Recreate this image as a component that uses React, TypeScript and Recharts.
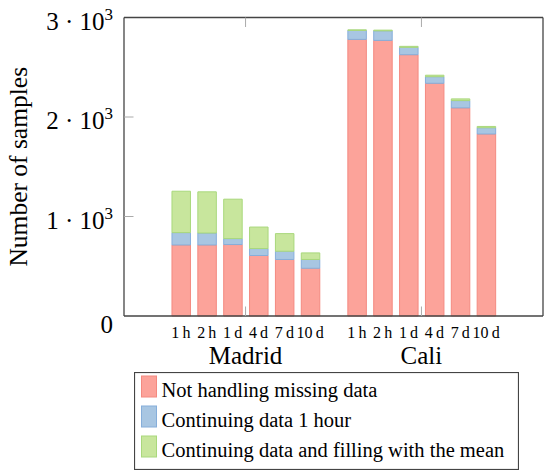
import React from 'react';
import { BarChart, Bar, XAxis, YAxis, Legend, Label } from 'recharts';

const cities = ['Madrid', 'Cali'];
const horizons = ['1\u2009h', '2\u2009h', '1\u2009d', '4\u2009d', '7\u2009d', '10\u2009d'];
const seriesNames = [
  'Not handling missing data',
  'Continuing data 1 hour',
  'Continuing data and filling with the mean',
];
const madridNotHandling = [714, 714, 718, 608, 568, 480];
const madridContinuing1h = [124, 120, 60, 70, 83, 88];
const madridFillingMean = [416, 414, 396, 216, 177, 66];
const caliNotHandling = [2780, 2770, 2626, 2339, 2092, 1829];
const caliContinuing1h = [90, 96, 74, 66, 73, 63];
const caliFillingMean = [6, 7, 10, 15, 17, 13];
const yTicks = [0, 1000, 2000, 3000];

// layout (not data)
const GROUP_START = [2.2, 9.0];
const X_DOMAIN: [number, number] = [0, 16.2];
const FONT = '"Liberation Serif", "Times New Roman", serif';
const FILLS = ['#FCA39A', '#A8C6E2', '#C8E69D'];
const STROKES = ['#F48A80', '#86AEDA', '#A9D87C'];
const FRAME = '#444444';
const TICK = '#aaaaaa';

const perCity = [
  [madridNotHandling, madridContinuing1h, madridFillingMean],
  [caliNotHandling, caliContinuing1h, caliFillingMean],
];

const data = cities.flatMap((city, c) =>
  horizons.map((h, i) => ({
    x: GROUP_START[c] + i,
    label: h,
    city,
    notHandling: perCity[c][0][i],
    continuing1h: perCity[c][1][i],
    fillingMean: perCity[c][2][i],
  }))
);
const barTicks = data.map((d) => d.x);
const barLabels = data.map((d) => d.label);
const groupCenters = GROUP_START.map((s) => s + (horizons.length - 1) / 2);

const YTick = (props: any) => {
  const { x, y, payload } = props;
  const v = payload.value as number;
  return (
    <g>
      {v > 0 && v < 3000 && <line x1={x} x2={x + 9.5} y1={y} y2={y} stroke={TICK} strokeWidth={1} />}
      <text
        x={x - 11}
        y={v === 0 ? y + 17 : y + 12}
        textAnchor="end"
        fontFamily={FONT}
        fontSize={25}
        fill="#000"
      >
        {v === 0 ? (
          '0'
        ) : (
          <>
            {`${v / 1000} \u00B7 10`}
            <tspan dy={-10} fontSize={17}>
              3
            </tspan>
          </>
        )}
      </text>
    </g>
  );
};

const RightTick = (props: any) => {
  const { x, y, payload } = props;
  const v = payload.value as number;
  if (v <= 0 || v >= 3000) return <g />;
  return <line x1={x - 9.5} x2={x} y1={y} y2={y} stroke={TICK} strokeWidth={1} />;
};

const TopTick = (props: any) => {
  const { x, y } = props;
  return <line x1={x} x2={x} y1={y} y2={y + 9.5} stroke={TICK} strokeWidth={1} />;
};

const BAR_AXIS_H = 24;

const BarLabelTick = (props: any) => {
  const { x, y, index } = props;
  return (
    <text x={x} y={y + 22} textAnchor="middle" fontFamily={FONT} fontSize={16} fill="#000">
      {barLabels[index]}
    </text>
  );
};

const GroupTick = (props: any) => {
  const { x, y, index } = props;
  const plotBottom = y - BAR_AXIS_H;
  return (
    <g>
      <line x1={x} x2={x} y1={plotBottom} y2={plotBottom - 9.5} stroke={TICK} strokeWidth={1} />
      <text x={x} y={y + 24} textAnchor="middle" fontFamily={FONT} fontSize={25} fill="#000">
        {cities[index]}
      </text>
    </g>
  );
};

const YLabel = (props: any) => {
  const vb = props.viewBox || {};
  const cy = (vb.y ?? 17) + (vb.height ?? 299) / 2;
  const bx = 27;
  return (
    <text
      x={bx}
      y={cy}
      transform={`rotate(-90, ${bx}, ${cy})`}
      textAnchor="middle"
      fontFamily={FONT}
      fontSize={25.5}
      fill="#000"
    >
      Number of samples
    </text>
  );
};

const LegendBox = () => (
  <svg width={385} height={98} style={{ display: 'block' }}>
    <rect x={0.5} y={0.5} width={384} height={97} fill="#fff" stroke={FRAME} strokeWidth={1.2} />
    {seriesNames.map((name, i) => {
      const top = 4 + i * 30;
      return (
        <g key={name}>
          <rect x={7.5} y={top} width={15} height={21} fill={FILLS[i]} stroke={STROKES[i]} strokeWidth={1} />
          <text x={27.5} y={top + 20.5} fontFamily={FONT} fontSize={20.5} fill="#000">
            {name}
          </text>
        </g>
      );
    })}
  </svg>
);

export default function App() {
  return (
    <div style={{ position: 'absolute', left: 0, top: 0, width: 550, height: 476, background: '#fff' }}>
      <BarChart
        width={550}
        height={476}
        data={data}
        margin={{ top: 16.5, right: 6, bottom: 106, left: 0 }}
        barGap={0}
      >
        <XAxis
          dataKey="x"
          type="number"
          domain={X_DOMAIN}
          ticks={barTicks}
          interval={0}
          tick={BarLabelTick}
          tickLine={false}
          tickSize={0}
          tickMargin={0}
          height={BAR_AXIS_H}
          axisLine={{ stroke: FRAME, strokeWidth: 1.3 }}
          allowDataOverflow
        />
        <XAxis
          xAxisId="group"
          dataKey="x"
          type="number"
          domain={X_DOMAIN}
          ticks={groupCenters}
          interval={0}
          tick={GroupTick}
          tickLine={false}
          tickSize={0}
          tickMargin={0}
          height={30}
          axisLine={false}
          allowDataOverflow
        />
        <XAxis
          xAxisId="top"
          dataKey="x"
          orientation="top"
          type="number"
          domain={X_DOMAIN}
          ticks={groupCenters}
          interval={0}
          tick={TopTick}
          tickLine={false}
          tickSize={0}
          tickMargin={0}
          height={1}
          axisLine={{ stroke: FRAME, strokeWidth: 1.3 }}
          allowDataOverflow
        />
        <YAxis
          type="number"
          domain={[0, 3000]}
          ticks={yTicks}
          interval={0}
          width={124}
          tick={YTick}
          tickLine={false}
          tickSize={0}
          tickMargin={0}
          axisLine={{ stroke: FRAME, strokeWidth: 1.3 }}
        >
          <Label content={YLabel} />
        </YAxis>
        <YAxis
          yAxisId="right"
          orientation="right"
          type="number"
          domain={[0, 3000]}
          ticks={yTicks}
          interval={0}
          width={1}
          tick={RightTick}
          tickLine={false}
          tickSize={0}
          tickMargin={0}
          axisLine={{ stroke: FRAME, strokeWidth: 1.3 }}
        />
        <Legend
          layout="vertical"
          align="center"
          verticalAlign="middle"
          content={LegendBox}
          wrapperStyle={{ position: 'absolute', left: 134, top: 372, width: 385, height: 98 }}
        />
        <Bar
          dataKey="notHandling"
          name={seriesNames[0]}
          stackId="s"
          fill={FILLS[0]}
          stroke={STROKES[0]}
          strokeWidth={1}
          barSize={18.5}
          isAnimationActive={false}
        />
        <Bar
          dataKey="continuing1h"
          name={seriesNames[1]}
          stackId="s"
          fill={FILLS[1]}
          stroke={STROKES[1]}
          strokeWidth={1}
          barSize={18.5}
          isAnimationActive={false}
        />
        <Bar
          dataKey="fillingMean"
          name={seriesNames[2]}
          stackId="s"
          fill={FILLS[2]}
          stroke={STROKES[2]}
          strokeWidth={1}
          barSize={18.5}
          isAnimationActive={false}
        />
      </BarChart>
    </div>
  );
}
